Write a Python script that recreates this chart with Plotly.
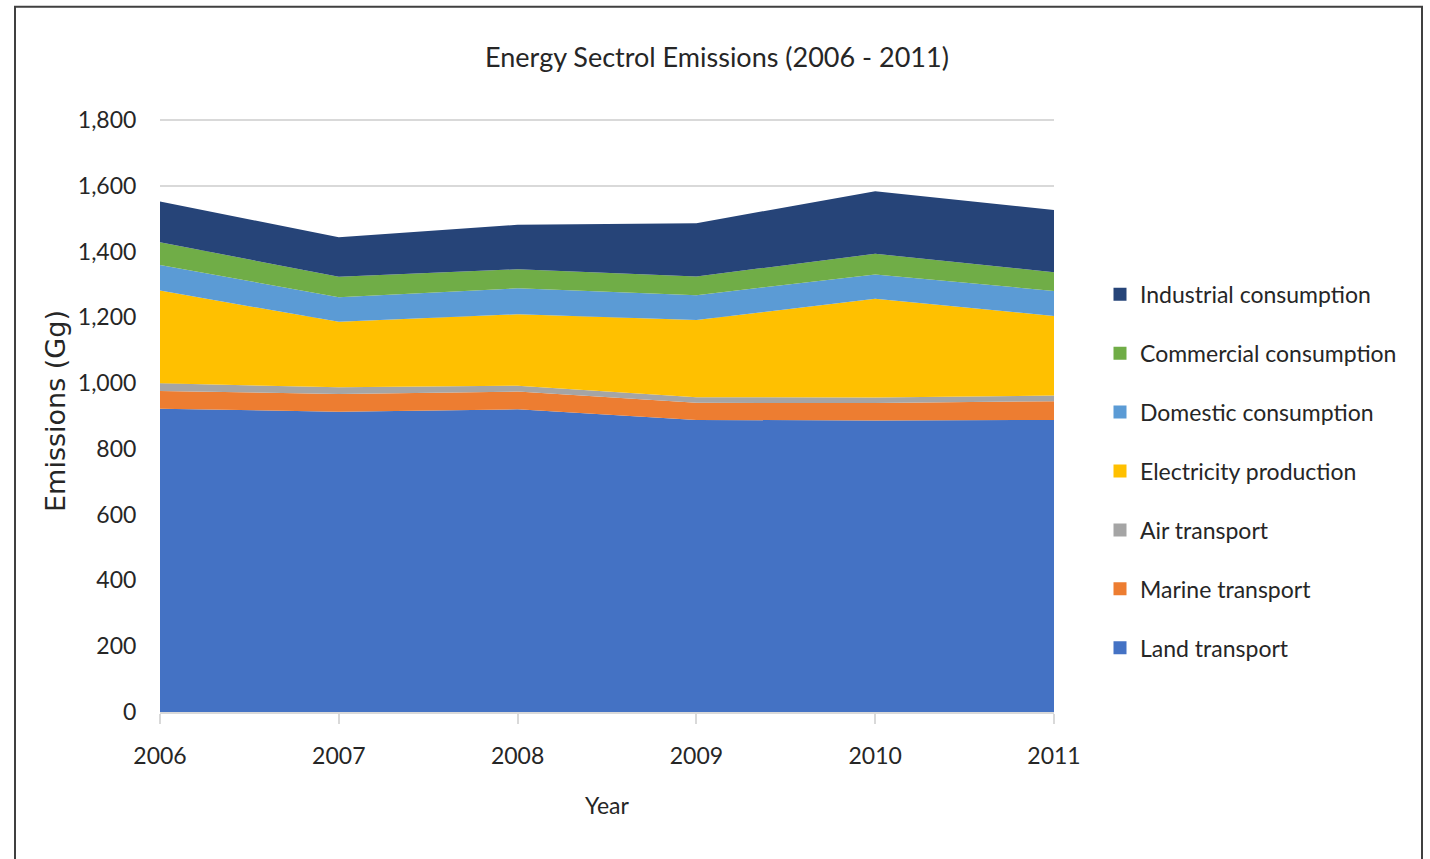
import plotly.graph_objects as go

years = [2006, 2007, 2008, 2009, 2010, 2011]
land_transport = [922, 913, 920, 888, 886, 888]
marine_transport = [54, 54, 54, 52, 53, 57]
air_transport = [23, 20, 18, 17, 17, 17]
electricity_production = [282, 199, 217, 235, 300, 242]
domestic_consumption = [78, 75, 79, 75, 74, 76]
commercial_consumption = [69, 62, 58, 57, 63, 57]
industrial_consumption = [124, 120, 135, 162, 190, 189]

series = [
    ("Land transport", land_transport, "#4472C4"),
    ("Marine transport", marine_transport, "#ED7D31"),
    ("Air transport", air_transport, "#A5A5A5"),
    ("Electricity production", electricity_production, "#FFC000"),
    ("Domestic consumption", domestic_consumption, "#5B9BD5"),
    ("Commercial consumption", commercial_consumption, "#70AD47"),
    ("Industrial consumption", industrial_consumption, "#264478"),
]

FONT = "Lato, 'Liberation Sans Narrow', 'Open Sans', sans-serif"

fig = go.Figure()
for i, (name, vals, color) in enumerate(series):
    fig.add_trace(go.Scatter(
        x=years, y=vals, name=name, stackgroup="one", mode="none",
        fillcolor=color, line=dict(width=0, color=color),
        legendgroup=name, showlegend=False,
    ))
# legend entries with square swatches
for i, (name, vals, color) in enumerate(series):
    fig.add_trace(go.Scatter(
        x=[None], y=[None], name=name, mode="markers",
        marker=dict(symbol="square", size=13, color=color),
        legendgroup=name, legendrank=1000 - i, showlegend=True,
    ))

W, H = 1430, 859
L, R, B = 160, 1054, 712
YMAX = 1830
T = B - 592 * YMAX / 1800
fig.update_layout(
    width=W, height=H,
    margin=dict(l=L, r=W - R, t=T, b=H - B),
    paper_bgcolor="white", plot_bgcolor="white",
    font=dict(family=FONT, size=23, color="#262626"),
    title=dict(text="Energy Sectrol Emissions (2006 - 2011)", x=(717 / W), xref="container",
               y=1 - 58 / H, yref="container", yanchor="middle", xanchor="center",
               font=dict(family=FONT, size=27, color="#262626")),
    showlegend=True,
    legend=dict(traceorder="grouped", x=(1100 - L) / (R - L), xanchor="left",
                y=(B - 297) / (B - T) + 0.04, yanchor="top",
                font=dict(family=FONT, size=23, color="#262626"),
                tracegroupgap=26, itemwidth=30, bgcolor="rgba(0,0,0,0)"),
    xaxis=dict(range=[2006, 2011], tickmode="array", tickvals=years,
               ticktext=[str(y) for y in years],
               showgrid=False, showline=True, linecolor="#D9D9D9", linewidth=2,
               ticks="outside", ticklen=10, tickcolor="#D9D9D9", tickwidth=2,
               ticklabelstandoff=12,
               tickfont=dict(family=FONT, size=23, color="#262626"),
               title=dict(text="Year", standoff=30,
                          font=dict(family=FONT, size=23, color="#262626")),
               zeroline=False),
    yaxis=dict(range=[0, YMAX], tickmode="array",
               tickvals=[0, 200, 400, 600, 800, 1000, 1200, 1400, 1600, 1800],
               tickformat=",d", showgrid=True, gridcolor="#D9D9D9", gridwidth=2,
               showline=False, zeroline=False,
               ticks="outside", ticklen=18, tickcolor="rgba(0,0,0,0)",
               tickfont=dict(family=FONT, size=23, color="#262626"),
               title=dict(text="Emissions (Gg)", standoff=4,
                          font=dict(family="'DejaVu Sans', Verdana, sans-serif", size=27,
                                    color="#262626"))),
)

# outer frame
fig.add_shape(type="rect", xref="paper", yref="paper",
              x0=(15 - L) / (R - L), x1=(1422 - L) / (R - L),
              y0=(B - 870) / (B - T), y1=(B - 7) / (B - T),
              line=dict(color="#404040", width=2), fillcolor="rgba(0,0,0,0)", layer="below")

fig.write_html("out.html")
